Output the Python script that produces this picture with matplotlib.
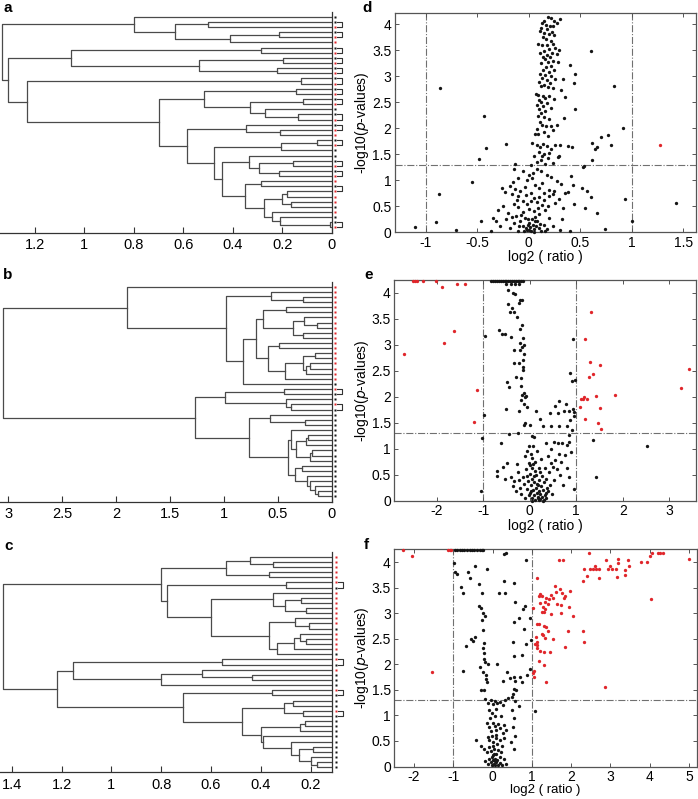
import matplotlib
matplotlib.use('Agg')
import matplotlib.pyplot as plt

plt.rcParams['font.family'] = ['Liberation Sans', 'DejaVu Sans']

W, H = 698, 799

# ---- dendrogram data: nested (height, left, right), leaves numbered top->bottom ----
TREE_A = (1.331,
          (0.80, 1, (0.634, (0.501, 2, 3), (0.412, (0.212, 4, 5), 6))),
          (1.307,
           (1.054, (0.284, 7, 8), (0.538, (0.196, 9, 10), (0.220, 11, 12))),
           (1.23, (0.124, 13, 14),
            (0.697,
             (0.515, (0.145, 15, 16), (0.331, (0.118, 17, 18), (0.270, 19, (0.138, 20, 21)))),
             (0.586, (0.347, 22, (0.207, 23, 24)),
              (0.476, (0.203, (0.061, 25, 26), 27),
               (0.442, (0.334, 28, (0.293, (0.155, 29, 30), (0.215, 31, 32))),
                (0.35, (0.284, 33, 34),
                 (0.273, (0.199, (0.182, 35, 36), (0.165, 37, 38)),
                  (0.243, 39, (0.207, 40, (0.007, 41, 42))))))))))))

TREE_B = (3.05,
          (1.896, 1,
           (0.976, (0.566, 2, (0.264, 3, 4)),
            (0.82,
             (0.70,
              (0.637, (0.426, 5, 6), (0.357, (0.258, 7, (0.14, 8, 9)), (0.264, 10, 11))),
              (0.59, (0.49, 12, 13),
               (0.43, (0.264, (0.155, 14, 15), (0.243, (0.2, 16, 17), 18)), 19))),
             20))),
          (1.268,
           (0.99, (0.44, 21, 22), (0.426, 23, (0.38, 24, 25))),
           (0.771, (0.575, 26, (0.249, 27, 28)),
            (0.41,
             (0.38, 29, (0.333, (0.235, (0.22, 30, 31), 32), (0.2, (0.18, 33, 34), 35))),
             (0.34, (0.28, 36, 37), (0.23, 38, (0.2, 39, (0.155, 40, (0.13, 41, 42)))))))))

TREE_C = (1.436,
          (0.802,
           (0.541, (0.443, 1, (0.353, 2, 3)), (0.369, 4, 5)),
           (0.778, (0.299, 6, 7),
            (0.601, (0.353, 8, (0.303, (0.239, 9, 10), (0.219, 11, 12))),
             (0.369, (0.262, 13, (0.205, 14, 15)),
              (0.336, (0.266, (0.243, 16, (0.217, 17, 18)), 19), 20))))),
          (1.219,
           (1.155, (0.557, 21, 22), (0.802, (0.637, 23, (0.437, 24, 25)), 26)),
           (0.711, (0.357, 27, 28),
            (0.474, (0.307, (0.27, 29, 30), (0.232, 31, 32)),
             (0.4, (0.243, (0.223, 33, 34), 35),
              (0.39, 36, (0.28, 37, (0.248, (0.19, 38, 39), (0.2, 40, (0.175, 41, 42))))))))))

RED_A = [3, 5, 6, 8, 10, 12, 14, 16, 18, 21, 23, 24, 26, 30, 32, 33, 35, 36, 37, 39, 42]
RED_B = list(range(1, 20)) + [21, 24]
RED_C = [1, 2, 3, 4, 5, 6, 8, 9, 10, 11, 12, 13, 14, 16, 17, 18, 19, 21, 23, 27, 31]

PAIRS_A = [(2, 3), (4, 5), (7, 8), (9, 10), (11, 12), (13, 14), (15, 16), (17, 18), (20, 21),
           (22, 23), (25, 26), (29, 30), (31, 32), (34, 35), (41, 42)]
PAIRS_B = [(21, 22), (24, 25)]
PAIRS_C = [(6, 7), (21, 22), (27, 28), (31, 32)]

TICKS_A = [0, 0.2, 0.4, 0.6, 0.8, 1, 1.2]
TICKS_B = [0, 0.5, 1, 1.5, 2, 2.5, 3]
TICKS_C = [0.2, 0.4, 0.6, 0.8, 1, 1.2, 1.4]

# ---- volcano data (log2 ratio, -log10 p) ----
D_BLACK = [
    (-1.10, 0.11), (-0.90, 0.19), (-0.86, 2.77), (-0.87, 0.74), (-0.71, 0.05), (-0.55, 0.97),
    (-0.46, 0.22), (-0.43, 2.24), (-0.41, 1.62), (-0.48, 1.41), (-0.22, 1.69), (-0.13, 1.31),
    (1.43, 0.56), (1.00, 0.22), (0.93, 0.64), (0.74, 0.06), (0.83, 2.82), (0.60, 3.49), (0.91, 2.01),
    (0.77, 1.88), (0.70, 1.83), (0.80, 1.68), (0.61, 1.72), (0.64, 1.60), (0.66, 1.65), (0.61, 1.39),
    (0.66, 0.37), (0.60, 0.67), (0.43, 0.91), (0.41, 1.08), (0.44, 0.54), (0.32, 0.26), (0.35, 0.76),
    (0.40, 3.22), (0.45, 3.05), (0.44, 2.88), (0.45, 2.38), (0.34, 2.19), (0.35, 2.60), (0.31, 2.73),
    (0.33, 2.95), (0.27, 2.06), (0.42, 1.65), (0.38, 1.66), (0.30, 1.67), (0.29, 1.46), (0.40, 0.03),
    (0.54, 1.28), (0.53, 1.25), (0.55, 0.47), (0.52, 0.86), (0.38, 0.78), (0.57, 0.80),
    (0.15, 4.06), (0.19, 4.14), (0.22, 4.12), (0.25, 4.07), (0.30, 4.11), (0.13, 4.03), (0.17, 3.98),
    (0.21, 3.97), (0.24, 3.97), (0.27, 4.03), (0.12, 3.93), (0.18, 3.91), (0.23, 3.86), (0.11, 3.87),
    (0.15, 3.84), (0.20, 3.82), (0.25, 3.79), (0.14, 3.76), (0.17, 3.72), (0.22, 3.68), (0.09, 3.63),
    (0.13, 3.61), (0.18, 3.60), (0.24, 3.62), (0.26, 3.55), (0.20, 3.53), (0.29, 3.50), (0.15, 3.48),
    (0.23, 3.45), (0.27, 3.43), (0.11, 3.44), (0.18, 3.41), (0.21, 3.38),
    (0.14, 3.37), (0.16, 3.33), (0.24, 3.30), (0.19, 3.28), (0.28, 3.27), (0.12, 3.25), (0.22, 3.20),
    (0.17, 3.17), (0.14, 3.13), (0.25, 3.12), (0.20, 3.08), (0.11, 3.05), (0.16, 3.02), (0.22, 3.00),
    (0.13, 2.97), (0.26, 2.95), (0.18, 2.92), (0.10, 2.90), (0.21, 2.87), (0.15, 2.84), (0.12, 2.81),
    (0.19, 2.80), (0.24, 2.77), (0.07, 2.66), (0.09, 2.64), (0.14, 2.63), (0.20, 2.62), (0.16, 2.58),
    (0.25, 2.57), (0.10, 2.55), (0.12, 2.51), (0.18, 2.48), (0.08, 2.45), (0.14, 2.42), (0.22, 2.40),
    (0.10, 2.37), (0.16, 2.33), (0.12, 2.29), (0.09, 2.24), (0.15, 2.21), (0.20, 2.17), (0.11, 2.12),
    (0.13, 2.06), (0.17, 2.04), (0.22, 2.05), (0.08, 1.98),
    (0.06, 1.89), (0.09, 1.89), (0.15, 1.93), (0.19, 1.86), (0.24, 1.97), (0.03, 1.72), (0.08, 1.68),
    (0.14, 1.70), (0.11, 1.64), (0.18, 1.66), (0.22, 1.60), (0.26, 1.68), (0.10, 1.55), (0.15, 1.51),
    (0.05, 1.46), (0.19, 1.42), (0.12, 1.40), (0.08, 1.35), (0.16, 1.31), (0.24, 1.34), (0.02, 1.29),
    (0.28, 1.45), (0.20, 1.52), (0.13, 1.47),
    (-0.14, 1.22), (-0.10, 1.05), (-0.06, 1.18), (-0.02, 1.00), (0.00, 1.10), (0.04, 1.15), (0.08, 1.22),
    (0.12, 1.18), (0.18, 1.10), (0.22, 1.07), (0.27, 0.99), (0.31, 0.93), (0.13, 0.95), (0.06, 0.91),
    (-0.15, 0.97), (-0.18, 0.90), (-0.13, 0.84), (0.10, 0.85), (0.20, 0.82), (0.25, 0.80), (-0.23, 0.78),
    (-0.08, 0.80), (-0.16, 0.74), (-0.10, 0.70), (-0.03, 0.72), (0.02, 0.75), (0.05, 0.66), (0.10, 0.67),
    (0.15, 0.62), (0.20, 0.69), (0.24, 0.74), (0.29, 0.65), (-0.06, 0.60), (-0.02, 0.55), (0.08, 0.58),
    (0.13, 0.52), (0.19, 0.50), (0.26, 0.56), (0.33, 0.46), (-0.14, 0.55), (-0.25, 0.50), (-0.30, 0.42),
    (-0.10, 0.48), (0.00, 0.45), (0.05, 0.41), (-0.06, 0.39), (0.16, 0.43), (-0.35, 0.28), (-0.32, 0.21),
    (-0.28, 0.12), (-0.22, 0.26), (-0.18, 0.08), (-0.14, 0.18), (-0.12, 0.31), (-0.08, 0.21),
    (-0.06, 0.12), (-0.04, 0.28), (-0.02, 0.05), (0.00, 0.18), (0.01, 0.10), (0.02, 0.02), (0.03, 0.25),
    (0.04, 0.15), (0.05, 0.06), (0.06, 0.30), (0.07, 0.12), (0.08, 0.21), (0.10, 0.08), (0.12, 0.03),
    (0.15, 0.15), (0.18, 0.07), (0.20, 0.28), (-0.03, 0.08), (-0.01, 0.15), (0.00, 0.04), (-0.05, 0.02),
    (-0.10, 0.03), (0.16, 0.02), (0.24, 0.12), (0.30, 0.05), (-0.37, 0.02), (-0.20, 0.37), (0.10, 0.35),
    (0.05, 0.00), (-0.07, 0.33), (0.02, 0.60), (-0.04, 0.88), (0.03, 1.05), (0.15, 0.75), (-0.26, 0.86),
    (-0.11, 0.62), (0.09, 0.47), (-0.01, 0.26), (0.06, 0.22), (-0.09, 0.13), (0.11, 0.16), (-0.16, 0.29),
]
D_RED = [(1.27, 1.68)]

E_BLACK = [
    (-0.82, 4.22), (-0.78, 4.22), (-0.74, 4.22), (-0.70, 4.22), (-0.66, 4.22), (-0.62, 4.22),
    (-0.58, 4.22), (-0.54, 4.22), (-0.50, 4.22), (-0.46, 4.22), (-0.42, 4.22), (-0.38, 4.22),
    (-0.34, 4.22), (-0.30, 4.22), (-0.26, 4.22), (-0.22, 4.22), (-0.18, 4.22), (-0.15, 4.22),
    (-0.51, 4.17), (-0.40, 4.16), (-0.31, 4.17), (-0.22, 4.17), (-0.46, 4.05), (-0.36, 4.00),
    (-0.31, 3.98), (-0.20, 3.86), (-0.16, 3.86), (-0.23, 3.80), (-0.47, 3.79), (-0.38, 3.70),
    (-0.42, 3.63), (-0.33, 3.62), (-0.28, 3.54), (-0.16, 3.38), (-0.20, 3.31), (-0.66, 3.28),
    (-0.59, 3.21), (-0.52, 3.21), (-0.40, 3.14), (-0.95, 3.16), (-0.15, 3.12), (-0.20, 3.03),
    (-0.13, 3.00), (-0.17, 2.95),
    (-0.21, 2.90), (-0.34, 2.90), (-0.13, 2.82), (-0.15, 2.70), (-0.33, 2.64), (-0.22, 2.64),
    (-0.15, 2.58), (-0.15, 2.51), (-0.29, 2.38), (-0.19, 2.35), (-0.49, 2.29), (-0.44, 2.19),
    (-0.18, 2.20), (-0.13, 2.08), (-0.16, 2.03), (-0.11, 1.99), (-0.07, 2.01), (-0.19, 1.93),
    (-0.12, 1.85), (-0.06, 1.81), (-0.51, 1.76), (-0.44, 1.29), (-0.99, 1.65), (-1.02, 1.20),
    (-1.04, 0.19), (-0.24, 1.72), (-0.10, 1.49), (-0.13, 1.45), (-0.25, 1.31), (0.00, 1.45),
    (0.05, 1.25), (0.10, 1.22),
    (0.86, 2.45), (0.91, 2.31), (0.98, 2.33), (0.93, 3.10), (0.64, 1.92), (0.55, 1.83), (0.74, 1.73),
    (0.84, 1.73), (0.94, 1.76), (0.96, 1.62), (0.86, 1.56), (0.23, 1.58), (0.43, 1.68), (0.64, 1.44),
    (0.46, 1.43), (0.28, 1.43), (0.80, 1.44), (0.91, 1.36), (0.84, 1.26), (1.37, 1.17), (2.51, 1.06),
    (1.43, 0.46), (0.96, 0.22), (0.14, 1.72), (0.60, 1.68), (0.77, 1.86), (0.95, 1.70), (0.70, 1.10),
    (0.80, 1.08), (0.85, 1.12), (0.88, 0.93), (0.60, 1.10), (0.52, 1.12), (0.46, 1.00),
    (-0.70, 0.58), (-0.70, 0.48), (-0.62, 1.10), (-0.58, 0.65), (-0.48, 0.72), (-0.52, 0.42),
    (-0.40, 0.45), (-0.36, 0.28), (-0.33, 0.38), (-0.30, 0.18), (-0.28, 0.70), (-0.25, 0.55),
    (-0.22, 0.40), (-0.20, 0.25), (-0.18, 0.12), (-0.15, 0.45), (-0.12, 0.32), (-0.10, 0.05),
    (-0.08, 0.60), (-0.06, 0.22), (-0.04, 0.38), (-0.02, 0.72), (0.00, 0.15), (0.00, 0.52), (0.02, 0.30),
    (0.03, 0.90), (0.04, 0.05), (0.05, 0.62), (0.06, 0.42), (0.07, 0.20), (0.08, 1.05), (0.09, 0.10),
    (0.10, 0.35), (0.11, 0.75), (0.12, 0.02), (0.13, 0.25), (0.14, 0.50), (0.15, 0.15), (0.16, 0.95),
    (0.17, 0.08), (0.18, 0.30), (0.19, 0.62), (0.20, 0.18), (0.21, 0.40), (0.22, 0.04), (0.23, 0.12),
    (0.24, 0.80), (0.25, 0.28), (0.26, 0.07), (0.27, 0.48), (0.28, 0.20), (0.30, 0.35), (0.31, 0.02),
    (0.32, 0.62), (0.34, 0.15), (0.35, 1.10), (0.36, 0.42), (0.38, 0.25), (0.40, 0.85), (0.42, 0.55),
    (0.44, 0.30), (0.46, 0.72), (0.48, 0.12), (0.50, 0.65), (0.52, 0.40), (0.55, 0.78), (0.58, 0.60),
    (0.62, 0.90), (0.65, 0.50), (0.68, 0.75), (0.72, 0.30), (0.75, 0.88), (0.80, 0.62), (0.85, 0.45),
    (-0.05, 0.95), (-0.02, 1.05), (0.05, 0.82), (0.01, 0.68), (-0.10, 0.85), (0.12, 0.58), (0.18, 0.05),
    (0.06, 0.00), (-0.02, 0.10), (0.03, 0.18), (0.10, 0.48), (0.20, 0.02), (0.15, 0.32), (-0.06, 0.48),
    (0.08, 0.70), (0.28, 0.00), (0.32, 0.10), (0.36, 0.05), (0.22, 0.55), (0.40, 0.18),
]
E_RED = [
    (-2.50, 4.22), (-2.46, 4.22), (-2.42, 4.22), (-2.29, 4.22), (-2.02, 4.22), (-1.88, 4.11),
    (-1.56, 4.17), (-1.39, 4.17), (-1.63, 3.27), (-1.84, 3.03), (-2.70, 2.82), (-1.14, 2.13),
    (-1.20, 1.51), (1.32, 3.62), (1.19, 3.11), (1.30, 2.66), (1.51, 2.60), (1.35, 2.43), (1.27, 2.37),
    (1.11, 1.95), (1.16, 2.00), (1.23, 1.95), (1.07, 1.81), (1.43, 2.01), (1.84, 2.03), (1.50, 1.78),
    (1.19, 1.58), (1.47, 1.49), (1.53, 1.38), (3.25, 2.17), (3.41, 2.54), (1.14, 1.96),
]

F_BLACK = [
    (-0.95, 4.23), (-0.90, 4.23), (-0.84, 4.23), (-0.78, 4.23), (-0.72, 4.23), (-0.66, 4.23),
    (-0.58, 4.23), (-0.52, 4.23), (-0.46, 4.23), (-0.40, 4.23), (-0.33, 4.23), (-0.28, 4.23),
    (-0.24, 4.23),
    (0.35, 4.18), (0.29, 4.15), (0.86, 4.04), (-0.98, 3.99), (-0.96, 3.81), (-0.91, 3.76), (-0.62, 3.81),
    (-0.58, 3.68), (-0.45, 3.92), (-0.15, 3.86), (-0.35, 3.57), (-0.81, 3.51), (-0.74, 3.40),
    (-0.28, 3.40), (0.30, 3.62), (0.54, 3.60), (0.17, 3.40), (0.31, 3.40), (0.57, 3.22), (0.82, 3.14),
    (0.78, 3.09), (0.68, 2.90), (0.95, 2.90), (0.54, 2.83), (0.80, 2.69), (0.99, 2.48), (0.86, 2.40),
    (0.52, 2.44), (0.75, 2.19), (0.54, 2.16), (0.95, 1.90), (0.88, 1.80),
    (-0.34, 3.14), (-0.30, 3.10), (-0.25, 3.00), (-0.20, 2.95), (-0.28, 2.86), (-0.25, 2.68),
    (-0.45, 2.54), (-0.49, 2.45), (-0.68, 2.35), (-0.55, 2.50), (-0.23, 2.42), (-0.25, 2.31),
    (-0.21, 2.22), (-0.22, 2.10), (-0.20, 2.04), (-0.32, 1.95), (-0.11, 2.00), (0.12, 2.00),
    (-0.76, 1.86), (-0.25, 1.85), (-0.17, 1.80), (-0.16, 1.72), (-0.13, 1.65), (-0.22, 1.49),
    (-0.30, 1.49), (0.38, 1.85), (0.44, 1.73), (0.27, 1.68), (0.54, 1.76), (0.57, 1.68), (0.69, 1.76),
    (0.74, 1.66), (0.54, 1.52), (0.53, 1.42), (0.50, 1.36), (0.59, 1.49), (0.57, 1.28), (0.68, 1.18),
    (1.07, 1.08), (-0.42, 0.51),
    (-0.20, 1.33), (-0.12, 1.25), (-0.05, 1.30), (0.00, 1.22), (0.06, 1.28), (0.12, 1.24), (0.20, 1.27),
    (0.26, 1.20), (0.32, 1.30), (0.40, 1.35), (-0.08, 1.10), (-0.02, 1.05), (0.05, 0.98), (0.10, 1.12),
    (0.50, 1.10), (0.55, 0.95), (-0.15, 0.85), (-0.10, 0.78), (-0.05, 0.70), (0.00, 0.86), (0.05, 0.80),
    (0.10, 0.72), (0.15, 0.83), (0.20, 0.76), (0.30, 0.82), (0.33, 0.72), (0.52, 0.78), (0.57, 0.60),
    (0.48, 0.48), (0.55, 0.35), (-0.12, 0.58), (-0.08, 0.52), (-0.02, 0.60), (0.02, 0.48), (0.08, 0.55),
    (0.12, 0.45), (0.18, 0.52), (0.25, 0.40), (0.30, 0.55), (-0.30, 0.40), (-0.22, 0.35), (-0.15, 0.28),
    (-0.10, 0.38), (-0.05, 0.30), (0.00, 0.22), (0.03, 0.35), (0.06, 0.15), (0.10, 0.25), (0.14, 0.32),
    (0.18, 0.18), (0.22, 0.28), (0.28, 0.15), (0.33, 0.05), (-0.18, 0.10), (-0.12, 0.05), (-0.08, 0.15),
    (-0.04, 0.08), (-0.01, 0.02), (0.01, 0.12), (0.03, 0.05), (0.05, 0.10), (0.07, 0.02), (0.09, 0.08),
    (0.12, 0.12), (0.15, 0.03), (0.20, 0.06), (0.25, 0.02), (-0.02, 0.18), (0.04, 0.25), (0.00, 0.40),
    (0.10, 0.62), (-0.06, 0.95), (0.22, 0.98), (0.26, 0.66),
]
F_RED = [
    (-2.28, 4.23), (-2.05, 4.12), (-1.55, 1.85), (-1.13, 4.23), (-1.09, 4.23), (-1.05, 4.23),
    (2.45, 4.18), (4.07, 4.18), (4.20, 4.18), (4.27, 4.18), (4.33, 4.18), (4.00, 4.12), (3.92, 4.00),
    (3.78, 4.00), (5.00, 4.06), (3.20, 4.06), (3.19, 3.98), (2.89, 4.05), (3.48, 3.92), (2.32, 3.86),
    (2.48, 3.86), (2.55, 3.86), (2.62, 3.86), (2.70, 3.86), (2.60, 3.92), (2.93, 3.86), (3.04, 3.86),
    (3.00, 3.93), (3.14, 3.86), (3.36, 3.84), (3.38, 3.75), (3.16, 3.71), (2.70, 3.68), (2.41, 3.72),
    (2.30, 3.62), (3.45, 4.05), (4.04, 3.28), (2.87, 1.55), (1.69, 4.04), (1.80, 4.04),
    (1.12, 3.68), (1.20, 3.38), (1.18, 3.33), (1.27, 3.33), (1.35, 3.30), (1.48, 3.35), (1.62, 3.42),
    (1.71, 3.47), (1.60, 3.54), (1.78, 3.40), (1.85, 3.33), (1.96, 3.44), (1.54, 3.30), (1.43, 3.28),
    (1.33, 3.22), (1.40, 3.18), (1.29, 3.13), (1.34, 3.08), (1.31, 3.03), (1.26, 3.02), (1.50, 2.99),
    (1.64, 3.17), (1.75, 3.16), (1.81, 3.30), (1.75, 3.00), (2.05, 2.95), (1.95, 3.12), (1.03, 3.10),
    (1.12, 2.78), (1.18, 2.78), (1.30, 2.75), (1.36, 2.73), (1.40, 2.65), (1.27, 2.60), (1.29, 2.58),
    (1.34, 2.51), (1.54, 2.50), (1.10, 2.54), (1.14, 2.43), (1.13, 2.38), (1.12, 2.32), (1.22, 2.26),
    (1.32, 2.25), (1.45, 2.24), (1.92, 2.65), (2.30, 2.65), (2.32, 2.43), (1.85, 2.34), (1.17, 2.06),
    (1.31, 1.98), (1.05, 1.86), (1.02, 1.82), (1.06, 1.76), (1.35, 1.65), (1.22, 3.20), (1.08, 2.40),
]

LINE_C = '#4a4a4a'
RED = '#e0262b'
DOT_K = '#151515'


def px_rect(x0, y0, x1, y1):
    return [x0 / W, 1 - y1 / H, (x1 - x0) / W, (y1 - y0) / H]


def draw_tree(ax, node):
    if isinstance(node, int):
        return float(node), 0.0
    h, left, right = node
    y1, h1 = draw_tree(ax, left)
    y2, h2 = draw_tree(ax, right)
    ax.plot([h1, h, h, h2], [y1, y1, y2, y2], color=LINE_C, lw=0.9)
    return (y1 + y2) / 2, h


def dendro_panel(rect, tree, reds, pairs, xlim, ticks, n=42):
    ax = fig.add_axes(rect)
    draw_tree(ax, tree)
    ax.set_xlim(*xlim)
    ax.set_ylim(n + 1, 0)
    for s in ['top', 'left']:
        ax.spines[s].set_visible(False)
    for s in ['bottom', 'right']:
        ax.spines[s].set_color('#333333')
        ax.spines[s].set_linewidth(0.9)
    ax.set_yticks([])
    ax.set_xticks(ticks)
    ax.set_xticklabels(['%g' % t for t in ticks])
    ax.tick_params(axis='x', direction='in', length=4, width=0.8, labelsize=10.5, pad=4, color='#333333')
    tr = ax.get_yaxis_transform()
    dx = 3.3 / (rect[2] * W)
    for k in range(1, n + 1):
        c = RED if k in reds else DOT_K
        ax.plot([1 + dx], [k], 's', ms=1.9, color=c, mec='none', transform=tr, clip_on=False)
    for a, b in pairs:
        x1, x2 = 1 + 1.7 * dx, 1 + 3.2 * dx
        ax.plot([x1, x2, x2, x1], [a, a, b, b], color='#333333', lw=0.8, transform=tr, clip_on=False)
    return ax


def volcano_panel(rect, black, red, xlim, ylim, xticks, xlab_size=10):
    ax = fig.add_axes(rect)
    bx, by = zip(*black)
    ax.plot(bx, by, 'o', ms=2.4, color=DOT_K, mec='none', clip_on=False, zorder=3)
    rx, ry = zip(*red)
    ax.plot(rx, ry, 'o', ms=2.4, color=RED, mec='none', clip_on=False, zorder=3)
    for v in (-1, 1):
        ax.axvline(v, color='#707070', ls='-.', lw=0.8, zorder=1)
    ax.axhline(1.3, color='#707070', ls='-.', lw=0.8, zorder=1)
    ax.set_xlim(*xlim)
    ax.set_ylim(*ylim)
    ax.set_xticks(xticks)
    ax.set_xticklabels(['%g' % t for t in xticks])
    yt = [0, 0.5, 1, 1.5, 2, 2.5, 3, 3.5, 4]
    ax.set_yticks(yt)
    ax.set_yticklabels(['%g' % t for t in yt])
    for s in ax.spines.values():
        s.set_color('#555555')
        s.set_linewidth(0.9)
    ax.tick_params(direction='in', length=3, width=0.7, labelsize=10, top=True, right=True,
                   color='#555555', pad=2.5)
    ax.set_xlabel('log2 ( ratio )', fontsize=xlab_size, labelpad=0.3)
    ax.set_ylabel('-log10($\\it{p}$-values)', fontsize=10, labelpad=0.5)
    return ax


fig = plt.figure(figsize=(W / 100, H / 100), dpi=100)

dendro_panel(px_rect(0, 11.6, 331.7, 232.6), TREE_A, RED_A, PAIRS_A, (1.341, 0), TICKS_A)
dendro_panel(px_rect(0, 281.6, 331.7, 501.6), TREE_B, RED_B, PAIRS_B, (3.077, 0), TICKS_B)
dendro_panel(px_rect(0, 551.6, 332.3, 772.4), TREE_C, RED_C, PAIRS_C, (1.447, 0.113), TICKS_C)

volcano_panel(px_rect(395, 12.7, 696, 232.3), D_BLACK, D_RED, (-1.297, 1.623), (0, 4.224),
              [-1, -0.5, 0, 0.5, 1, 1.5])
volcano_panel(px_rect(394.3, 280, 696, 500.7), E_BLACK, E_RED, (-2.907, 3.571), (0, 4.244),
              [-2, -1, 0, 1, 2, 3])
volcano_panel(px_rect(394.3, 549.3, 696.5, 766.5), F_BLACK, F_RED, (-2.5, 5.19), (0, 4.25),
              [-2, -1, 0, 1, 2, 3, 4, 5], xlab_size=9.5)

for letter, x, y in [('a', 3, 8), ('b', 3, 275), ('c', 4, 546), ('d', 362, 8), ('e', 364, 275), ('f', 364, 545)]:
    fig.text(x / W, 1 - y / H, letter, fontsize=11, fontweight='bold', ha='left', va='center')

fig.savefig('out.png', dpi=100)
